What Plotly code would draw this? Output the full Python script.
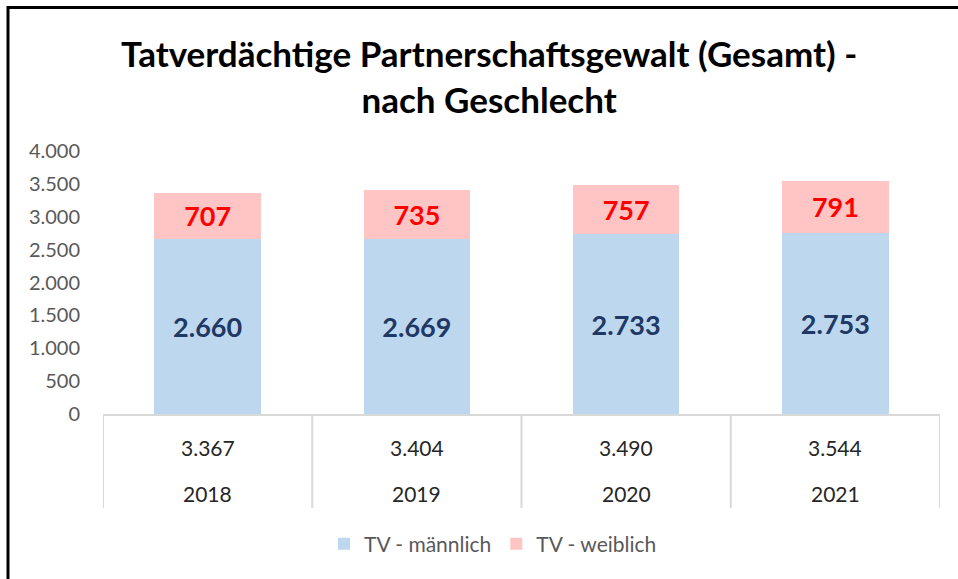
import plotly.graph_objects as go

years = ["2018", "2019", "2020", "2021"]
male = [2660, 2669, 2733, 2753]
female = [707, 735, 757, 791]
totals = [3367, 3404, 3490, 3544]
title_lines = ["Tatverdächtige Partnerschaftsgewalt (Gesamt) -", "nach Geschlecht"]

W, H = 958, 579
L, R = 103, 940     # plot area pixel x
T, B = 151, 414     # plot area pixel y (4000 .. 0)

def px_x(px):
    return (px - L) / (R - L)

def px_y(py):
    return (B - py) / (B - T)

def fmt(v):
    return f"{v:,}".replace(",", ".")

xs = list(range(len(years)))
FONT = "Lato"

fig = go.Figure()
fig.add_trace(go.Bar(
    x=xs, y=male, name="TV - männlich", marker=dict(color="#BDD7EE", line=dict(width=0)),
    width=0.51, text=[fmt(v) for v in male], textposition="inside",
    insidetextanchor="middle", textangle=0,
    textfont=dict(family=FONT, size=27, color="#1F3864", weight="bold"),
))
fig.add_trace(go.Bar(
    x=xs, y=female, name="TV - weiblich", marker=dict(color="#FFC5C5", line=dict(width=0)),
    width=0.51, text=[fmt(v) for v in female], textposition="inside",
    insidetextanchor="middle", textangle=0,
    textfont=dict(family=FONT, size=27, color="#FF0000", weight="bold"),
))

shapes = []
# table vertical separators
for i in range(len(years) + 1):
    shapes.append(dict(type="line", xref="x", yref="paper", x0=i - 0.5, x1=i - 0.5,
                       y0=0, y1=px_y(508), line=dict(color="#D9D9D9", width=2)))
# outer frame (left + top)
shapes.append(dict(type="line", xref="paper", yref="paper", x0=px_x(8), x1=px_x(8),
                   y0=px_y(6), y1=px_y(600), line=dict(color="black", width=3)))
shapes.append(dict(type="line", xref="paper", yref="paper", x0=px_x(7), x1=px_x(1000),
                   y0=px_y(7.5), y1=px_y(7.5), line=dict(color="black", width=3)))

annotations = []
for i, (t, yr) in enumerate(zip(totals, years)):
    annotations.append(dict(x=i, y=px_y(447), xref="x", yref="paper", text=fmt(t),
                            xanchor="center", yanchor="middle",
                            showarrow=False, font=dict(family=FONT, size=21, color="#262626")))
    annotations.append(dict(x=i, y=px_y(493), xref="x", yref="paper", text=yr,
                            xanchor="center", yanchor="middle",
                            showarrow=False, font=dict(family=FONT, size=21, color="#262626")))
annotations.append(dict(x=px_x(489), y=px_y(76), xref="paper", yref="paper",
                        text="<br>".join(title_lines), showarrow=False,
                        xanchor="center", yanchor="middle",
                        font=dict(family=FONT, size=35, color="black", weight="bold"),
                        align="center"))

fig.update_layout(
    width=W, height=H,
    margin=dict(l=L, r=W - R, t=T, b=H - B, pad=0),
    barmode="stack",
    separators=",.",
    plot_bgcolor="white", paper_bgcolor="white",
    font=dict(family=FONT, color="#595959"),
    showlegend=True,
    legend=dict(orientation="h", x=px_x(493), xanchor="center", y=px_y(544), yanchor="middle",
                font=dict(family=FONT, size=21, color="#595959"), traceorder="normal",
                itemwidth=30, bgcolor="rgba(0,0,0,0)"),
    xaxis=dict(range=[-0.5, 3.5], showticklabels=False, ticks="", showgrid=False,
               zeroline=False, showline=True, linecolor="#D9D9D9", linewidth=2, fixedrange=True),
    yaxis=dict(range=[0, 4000], dtick=500, tickformat=",d", showgrid=False, zeroline=False,
               showline=False, ticks="", ticklabelstandoff=22,
               tickfont=dict(family=FONT, size=20, color="#595959"), fixedrange=True),
    shapes=shapes,
    annotations=annotations,
)

fig.write_html("out.html", config={"displayModeBar": False},
               post_script="document.body.style.margin='0';document.body.style.overflow='hidden';")
